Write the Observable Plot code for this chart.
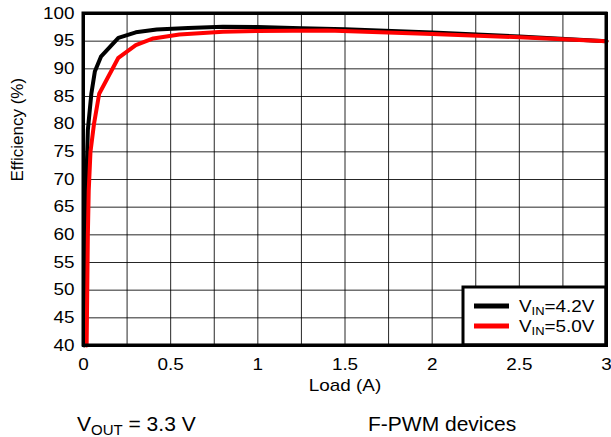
<!DOCTYPE html>
<html><head><meta charset="utf-8">
<script src="https://cdn.jsdelivr.net/npm/d3@7"></script>
<script src="https://cdn.jsdelivr.net/npm/@observablehq/plot@0.6"></script>
<style>
body{margin:0;background:#fff;font-family:Arial,"Liberation Sans",sans-serif;}
#wrap{position:relative;width:611px;height:437px;overflow:hidden;}
.cap{position:absolute;font-size:21px;color:#000;white-space:nowrap;line-height:1;}
.cap sub{font-size:15px;vertical-align:-4px;line-height:0;}
</style></head><body><div id="wrap"></div>
<script>
// Load (A) and efficiency (%) for each input voltage
const loadVin42 = [0.004, 0.01, 0.015, 0.025, 0.045, 0.065, 0.1, 0.2, 0.3, 0.42, 0.6, 0.8, 1.0, 1.25, 1.5, 2.0, 2.5, 3.0];
const effVin42  = [40, 60, 68, 79, 85.5, 89.5, 92.2, 95.6, 96.6, 97.1, 97.4, 97.6, 97.55, 97.35, 97.15, 96.55, 95.85, 95.0];
const loadVin50 = [0.018, 0.025, 0.03, 0.04, 0.06, 0.09, 0.2, 0.3, 0.4, 0.55, 0.8, 1.0, 1.4, 2.0, 2.5, 3.0];
const effVin50  = [40, 60, 68, 75, 80, 85.5, 92, 94.3, 95.5, 96.2, 96.7, 96.85, 96.95, 96.3, 95.7, 95.0];
const seriesNames = ["4.2V", "5.0V"];
const seriesColors = ["#000000", "#ff0000"];
const xTicks = [0, 0.5, 1, 1.5, 2, 2.5, 3];
const xGrid = [0.25, 0.5, 0.75, 1, 1.25, 1.5, 1.75, 2, 2.25, 2.5, 2.75];
const yTicks = [40, 45, 50, 55, 60, 65, 70, 75, 80, 85, 90, 95, 100];
const xLabel = "Load (A)";
const yLabel = "Efficiency (%)";

const rows42 = loadVin42.map((x, i) => ({x, y: effVin42[i]}));
const rows50 = loadVin50.map((x, i) => ({x, y: effVin50[i]}));

const W = 611, H = 437, mL = 83, mR = 5, mT = 13, mB = 92;
const chart = Plot.plot({
  width: W, height: H,
  marginLeft: mL, marginRight: mR, marginTop: mT, marginBottom: mB,
  style: {fontFamily: "Arial, 'Liberation Sans', sans-serif", fontSize: "16px", color: "#000", background: "#fff", overflow: "visible"},
  x: {domain: [0, 3]},
  y: {domain: [40, 100]},
  marks: [
    Plot.gridX(xGrid, {stroke: "#000", strokeOpacity: 0.85, strokeWidth: 1}),
    Plot.gridY(yTicks, {stroke: "#000", strokeOpacity: 0.85, strokeWidth: 1}),
    Plot.line(rows42, {x: "x", y: "y", stroke: seriesColors[0], strokeWidth: 4}),
    Plot.line(rows50, {x: "x", y: "y", stroke: seriesColors[1], strokeWidth: 4}),
    Plot.frame({stroke: "#000", strokeWidth: 3}),
    Plot.axisX(xTicks, {tickSize: 0, tickPadding: 13, label: null, fontSize: 16, tickFormat: d => `${d}`, className: "stretch"}),
    Plot.axisY(yTicks, {tickSize: 0, tickPadding: 9, label: null, fontSize: 16, tickFormat: d => `${d}`, className: "stretch"}),
    Plot.text([xLabel], {frameAnchor: "bottom", dy: 45, fontSize: 16, className: "stretch"}),
    Plot.text([yLabel], {frameAnchor: "left", dx: -66, dy: 2, rotate: -90, fontSize: 17})
  ]
});
document.getElementById("wrap").appendChild(chart);

const svg = d3.select(chart);

// legend drawn inside the svg
const lg = svg.append("g");
lg.append("rect").attr("x", 463).attr("y", 287).attr("width", W - mR - 463).attr("height", H - mB - 287)
  .attr("fill", "#fff").attr("stroke", "#000").attr("stroke-width", 3);
seriesNames.forEach((name, i) => {
  const yy = 306 + i * 20;
  lg.append("line").attr("x1", 474).attr("x2", 509).attr("y1", yy).attr("y2", yy)
    .attr("stroke", seriesColors[i]).attr("stroke-width", 5);
  const t = lg.append("text").attr("class", "stretch-el").attr("x", 519).attr("y", yy + 6)
    .attr("font-size", 16).attr("fill", "#000").attr("text-anchor", "start");
  t.append("tspan").text("V");
  t.append("tspan").attr("font-size", 11).attr("dy", 3).text("IN");
  t.append("tspan").attr("dy", -3).text("=" + name);
});
// redraw frame over legend
svg.append("rect").attr("x", mL).attr("y", mT).attr("width", W - mL - mR).attr("height", H - mT - mB)
  .attr("fill", "none").attr("stroke", "#000").attr("stroke-width", 3);

// horizontal stretch of the small labels, as in the reference
const SX = 1.18;
chart.querySelectorAll("g.stretch text, .stretch text, text.stretch-el").forEach(el => {
  const ax = +(el.getAttribute("x") || 0);
  const tr = el.getAttribute("transform") || "";
  el.setAttribute("transform", `${tr} translate(${ax},0) scale(${SX},1) translate(${-ax},0)`);
});

const wrap = document.getElementById("wrap");
const c1 = document.createElement("div");
c1.className = "cap"; c1.style.left = "77px"; c1.style.top = "413px";
c1.innerHTML = "V<sub>OUT</sub> = 3.3 V";
const c2 = document.createElement("div");
c2.className = "cap"; c2.style.left = "368px"; c2.style.top = "413px";
c2.textContent = "F-PWM devices";
wrap.appendChild(c1); wrap.appendChild(c2);
</script>
</body></html>
